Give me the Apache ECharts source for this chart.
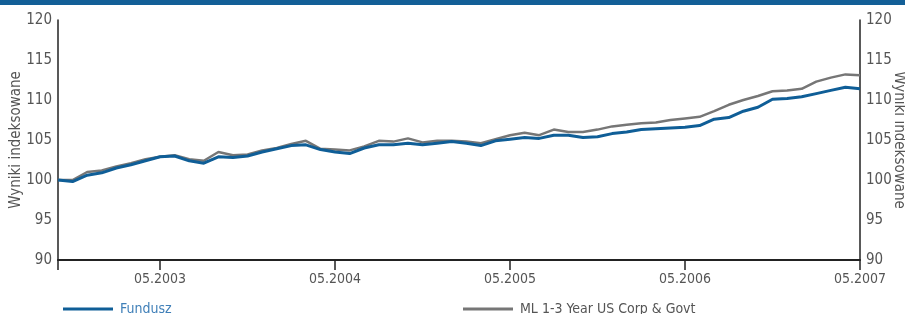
<!DOCTYPE html>
<html>
<head>
<meta charset="utf-8">
<script src="https://cdn.jsdelivr.net/npm/echarts@6/dist/echarts.min.js"></script>
<style>
  html, body { margin: 0; padding: 0; background: #fff; }
  #main { width: 905px; height: 314px; }
</style>
</head>
<body>
<div id="main"></div>
<script>
// monthly points, 10.2002 .. 05.2007
var months = [];
for (var y = 2002; y <= 2007; y++) {
  for (var m = 1; m <= 12; m++) {
    if ((y === 2002 && m < 10) || (y === 2007 && m > 5)) continue;
    months.push((m < 10 ? "0" + m : "" + m) + "." + y);
  }
}

var fundusz = [
  100.0, 99.8, 100.6, 100.9, 101.5, 101.9, 102.4, 102.9, 103.0, 102.4,
  102.1, 102.9, 102.8, 103.0, 103.5, 103.9, 104.3, 104.4, 103.8, 103.5,
  103.3, 104.0, 104.4, 104.4, 104.6, 104.4, 104.6, 104.8, 104.6, 104.3,
  104.9, 105.1, 105.3, 105.2, 105.6, 105.6, 105.3, 105.4, 105.8, 106.0,
  106.3, 106.4, 106.5, 106.6, 106.8, 107.6, 107.8, 108.6, 109.1, 110.1,
  110.2, 110.4, 110.8, 111.2, 111.6, 111.4
];

var benchmark = [
  100.0, 100.0, 101.0, 101.2, 101.7, 102.1, 102.6, 102.9, 103.1, 102.6,
  102.4, 103.5, 103.1, 103.2, 103.7, 104.0, 104.5, 104.9, 103.9, 103.8,
  103.7, 104.2, 104.9, 104.8, 105.2, 104.7, 104.9, 104.9, 104.8, 104.6,
  105.1, 105.6, 105.9, 105.6, 106.3, 106.0, 106.0, 106.3, 106.7, 106.9,
  107.1, 107.2, 107.5, 107.7, 107.9, 108.6, 109.4, 110.0, 110.5, 111.1,
  111.2, 111.4, 112.3, 112.8, 113.2, 113.1
];

var seriesNames = ["Fundusz", "ML 1-3 Year US Corp & Govt"];
var axisName = "Wyniki indeksowane";

var font = "'Liberation Sans Narrow', 'DejaVu Sans Condensed', sans-serif";
var blue = "#0f5e97";
var grey = "#767676";
var labelGrey = "#555";

function showMay(idx, val) {
  return val.indexOf("05.") === 0;
}

var chart = echarts.init(document.getElementById("main"));

var yAxisBase = {
  type: "value",
  min: 90,
  max: 120,
  interval: 5,
  name: axisName,
  nameLocation: "middle",
  nameMoveOverlap: false,
  nameTextStyle: { color: labelGrey, fontSize: 15, fontFamily: font },
  axisLine: { show: true, lineStyle: { color: "#222", width: 1.5 } },
  axisTick: { show: false },
  splitLine: { show: false },
  axisLabel: { color: labelGrey, fontSize: 15, fontFamily: font, margin: 6 }
};

var option = {
  animation: false,
  grid: { left: 58, right: 45, top: 20, bottom: 54, outerBoundsMode: "none", containLabel: false },
  graphic: [
    { type: "rect", left: 0, top: 0, shape: { width: 905, height: 5 }, style: { fill: "#135f97" } }
  ],
  legend: [
    {
      data: [seriesNames[0]],
      left: 58, top: 297,
      icon: "rect", itemWidth: 50, itemHeight: 3,
      textStyle: { color: "#3f7fb8", fontSize: 14, fontFamily: font, padding: [0, 0, 0, 2] }
    },
    {
      data: [seriesNames[1]],
      left: 458, top: 297,
      icon: "rect", itemWidth: 50, itemHeight: 3,
      textStyle: { color: labelGrey, fontSize: 14, fontFamily: font, padding: [0, 0, 0, 2] }
    }
  ],
  xAxis: {
    type: "category",
    data: months,
    boundaryGap: false,
    axisLine: { lineStyle: { color: "#222", width: 2 } },
    axisTick: {
      show: true,
      length: 10,
      interval: function (idx, val) { return idx === 0 || showMay(idx, val); },
      lineStyle: { color: "#222", width: 1.5 }
    },
    axisLabel: {
      interval: showMay,
      color: labelGrey, fontSize: 14, fontFamily: font, margin: 12
    }
  },
  yAxis: [
    Object.assign({}, yAxisBase, { position: "left", nameGap: 34 }),
    Object.assign({}, yAxisBase, { position: "right", nameGap: 31, nameRotate: -90 })
  ],
  series: [
    {
      name: seriesNames[1],
      type: "line",
      data: benchmark,
      showSymbol: false,
      lineStyle: { color: grey, width: 2.5 },
      itemStyle: { color: grey }
    },
    {
      name: seriesNames[0],
      type: "line",
      data: fundusz,
      showSymbol: false,
      lineStyle: { color: blue, width: 3 },
      itemStyle: { color: blue }
    }
  ]
};

chart.setOption(option);
</script>
</body>
</html>
